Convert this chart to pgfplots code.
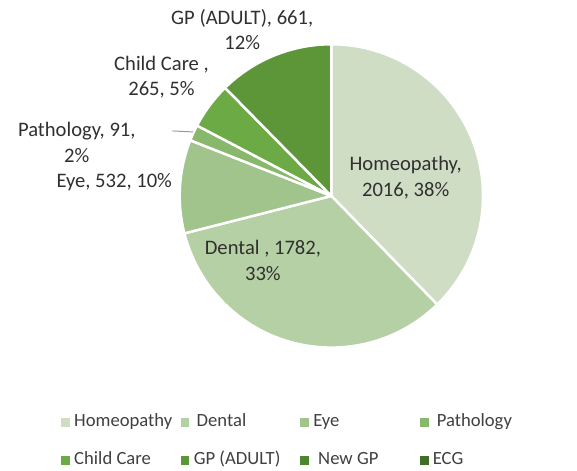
\documentclass[border=0pt]{standalone}
\usepackage{pgfplots}
\usepackage{pgfplotstable}
\pgfplotsset{compat=1.18}
\usepackage{fontspec}
\setmainfont{Carlito}
\definecolor{pc0}{HTML}{CFDDC5}
\definecolor{pc1}{HTML}{B6D0A5}
\definecolor{pc2}{HTML}{A0C48B}
\definecolor{pc3}{HTML}{88B86B}
\definecolor{pc4}{HTML}{6BAA45}
\definecolor{pc5}{HTML}{5C9638}
\definecolor{pc6}{HTML}{4E8630}
\definecolor{pc7}{HTML}{3F6E26}
\definecolor{lbl}{HTML}{303030}
\definecolor{leg}{HTML}{404040}
\pgfplotstableread{
name value
Homeopathy 2016
Dental 1782
Eye 532
Pathology 91
ChildCare 265
GPAdult 661
NewGP 0
ECG 0
}\piedata
\begin{document}
\def\total{0}
\pgfplotsforeachungrouped \i in {0,...,7}{%
  \pgfplotstablegetelem{\i}{value}\of\piedata
  \pgfmathsetmacro\total{\total+\pgfplotsretval}%
}
\def\cum{0}
\pgfplotsforeachungrouped \i in {0,...,7}{%
  \pgfplotstablegetelem{\i}{value}\of\piedata
  \pgfmathsetmacro\angstart{90-360*(\cum/\total)}%
  \pgfmathsetmacro\cum{\cum+\pgfplotsretval}%
  \pgfmathsetmacro\angend{90-360*(\cum/\total)}%
  \expandafter\xdef\csname angA\i\endcsname{\angstart}%
  \expandafter\xdef\csname angB\i\endcsname{\angend}%
}
\begin{tikzpicture}
\begin{axis}[
  x=1bp, y=1bp,
  xmin=0, xmax=577, ymin=0, ymax=478,
  hide axis, clip=false,
  legend columns=4,
  legend cell align=left,
  legend image code/.code={\fill[#1] (0bp,-4bp) rectangle (8bp,4bp); \path (13bp,0bp);},
  legend style={at={(axis cs:53,30)}, anchor=west, draw=none, fill=none,
    inner sep=0pt, outer sep=0pt, column sep=0pt, row sep=20bp,
    font=\fontsize{19}{23}\selectfont, text=leg,
    nodes={inner sep=0pt, text height=14bp, text depth=5bp}},
]
\coordinate (bbsw) at (axis cs:0,0);
\coordinate (bbne) at (axis cs:577,478);
\pgfplotsinvokeforeach{0,...,5}{%
  \fill[pc#1, draw=white, line width=2.5bp, line join=round]
    (axis cs:327.5,279) -- ++(\csname angA#1\endcsname:154bp)
    arc[start angle=\csname angA#1\endcsname, end angle=\csname angB#1\endcsname, radius=154bp] -- cycle;
}
\addlegendimage{pc0}\addlegendentry{\makebox[108bp][l]{Homeopathy}}
\addlegendimage{pc1}\addlegendentry{\makebox[108bp][l]{\hspace*{3bp}Dental}}
\addlegendimage{pc2}\addlegendentry{\makebox[108bp][l]{Eye}}
\addlegendimage{pc3}\addlegendentry{\makebox[108bp][l]{\hspace*{4bp}Pathology}}
\addlegendimage{pc4}\addlegendentry{\makebox[108bp][l]{Child Care}}
\addlegendimage{pc5}\addlegendentry{\makebox[108bp][l]{GP (ADULT)}}
\addlegendimage{pc6}\addlegendentry{\makebox[108bp][l]{\hspace*{5bp}New GP}}
\addlegendimage{pc7}\addlegendentry{\makebox[108bp][l]{ECG}}
\draw[gray!80, line width=1bp] (axis cs:166,345) -- (axis cs:187,344);
\begin{scope}[every node/.style={align=center, text=lbl, font=\fontsize{21}{26}\selectfont, inner sep=0pt}]
\node at (axis cs:403,297.5) {Homeopathy,\\2016, 38\%};
\node at (axis cs:258,213.5) {Dental , 1782,\\33\%};
\node at (axis cs:107,293) {Eye, 532, 10\%};
\node at (axis cs:69,333.5) {Pathology, 91,\\2\%};
\node at (axis cs:155,399.5) {Child Care ,\\265, 5\%};
\node at (axis cs:237,448) {GP (ADULT), 661,\\12\%};
\end{scope}
\end{axis}
\pgfresetboundingbox
\path[use as bounding box] (bbsw) rectangle (bbne);
\end{tikzpicture}
\end{document}
